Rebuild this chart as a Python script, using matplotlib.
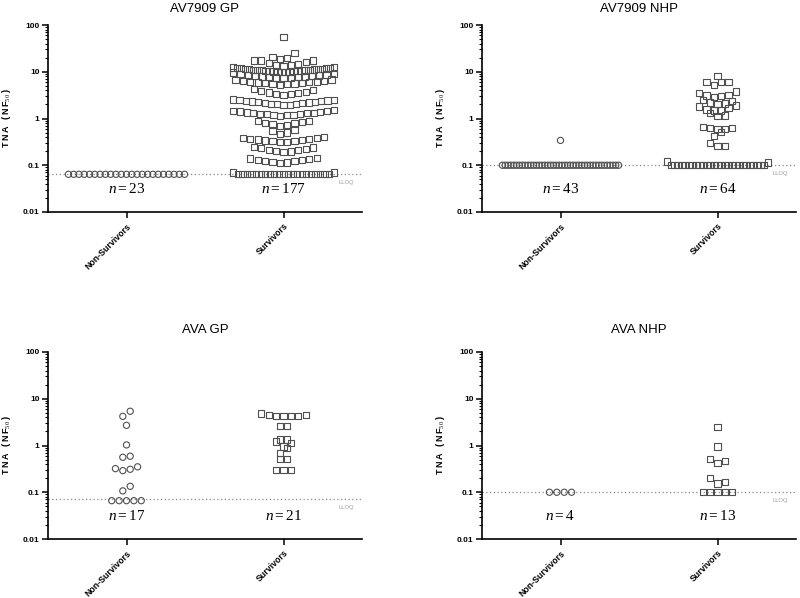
import numpy as np
import matplotlib
matplotlib.use("Agg")
import matplotlib.pyplot as plt
from matplotlib.ticker import LogLocator, NullFormatter, FixedLocator, FixedFormatter
import matplotlib.transforms as mtransforms

plt.rcParams['font.family'] = ['Liberation Sans', 'DejaVu Sans']
plt.rcParams['mathtext.fontset'] = 'custom'
plt.rcParams['mathtext.rm'] = 'Liberation Serif'
plt.rcParams['mathtext.it'] = 'Liberation Serif:italic'
plt.rcParams['mathtext.bf'] = 'Liberation Sans:bold'

# ---------------- data ----------------
categories = ["Non-Survivors", "Survivors"]
panel_titles = ["AV7909 GP", "AV7909 NHP", "AVA GP", "AVA NHP"]
y_ticks = [0.01, 0.1, 1, 10, 100]
y_tick_labels = ["0.01", "0.1", "1", "10", "100"]

lloq_av7909_gp = 0.064
lloq_av7909_nhp = 0.1
lloq_ava_gp = 0.07
lloq_ava_nhp = 0.1

av7909_gp_non = [0.064] * 23
av7909_gp_surv = (
    [0.064] * 21 + [0.070, 0.070]
    + [0.112, 0.115, 0.118, 0.121, 0.125, 0.128, 0.132, 0.136, 0.140, 0.145]
    + [0.190, 0.196, 0.203, 0.210, 0.216, 0.223, 0.231, 0.240, 0.250]
    + [0.310, 0.318, 0.326, 0.333, 0.340, 0.348, 0.355, 0.362, 0.370, 0.378, 0.388, 0.400]
    + [0.470, 0.500, 0.540, 0.580]
    + [0.700, 0.720, 0.750, 0.780, 0.810, 0.840, 0.870, 0.900]
    + [1.15, 1.17, 1.19, 1.21, 1.23, 1.25, 1.27, 1.29, 1.31, 1.33, 1.35, 1.38, 1.41, 1.44, 1.47, 1.50]
    + [1.95, 1.98, 2.01, 2.05, 2.08, 2.12, 2.15, 2.19, 2.22, 2.26, 2.30, 2.34, 2.38, 2.42, 2.46, 2.50, 2.55]
    + [3.2, 3.3, 3.4, 3.5, 3.6, 3.7, 3.85, 4.0, 4.2]
    + [5.3, 5.4, 5.5, 5.6, 5.7, 5.8, 5.9, 6.0, 6.1, 6.2, 6.3, 6.45, 6.6, 6.8]
    + [7.3, 7.4, 7.5, 7.6, 7.7, 7.8, 7.9, 8.0, 8.15, 8.3, 8.45, 8.6, 8.8, 9.0]
    + [9.6, 9.7, 9.8, 9.9, 10.0, 10.1, 10.2, 10.3, 10.4, 10.5, 10.6, 10.7, 10.8, 10.9,
       11.0, 11.1, 11.2, 11.3, 11.4, 11.5, 11.6, 11.8, 11.9, 12.0, 12.2, 12.3, 12.5]
    + [13.5, 14.0, 14.2, 14.6, 15.2, 16.0, 17.4, 17.4]
    + [17.4, 19.0, 19.5, 21.0, 25.0]
    + [55.0]
)

av7909_nhp_non = [0.1] * 42 + [0.34]
av7909_nhp_surv = (
    [0.1] * 27 + [0.115, 0.12]
    + [0.26, 0.26, 0.30]
    + [0.43, 0.51, 0.60, 0.60, 0.62, 0.62, 0.67]
    + [1.12, 1.16, 1.30, 1.48, 1.48, 1.56]
    + [1.66, 1.80, 1.90, 2.06, 2.10, 2.20]
    + [2.4, 2.5, 2.9, 3.0, 3.1, 3.2, 3.5, 3.8]
    + [5.3, 6.0, 6.0, 6.0, 8.0]
)

ava_gp_non = [0.066] * 5 + [0.107, 0.134, 0.29, 0.31, 0.32, 0.35, 0.56, 0.59, 1.03, 2.7, 4.2, 5.4]
ava_gp_surv = [0.30, 0.30, 0.30, 0.52, 0.52, 0.69, 0.89, 0.95, 1.12, 1.22, 1.34, 1.34,
               2.66, 2.66, 4.2, 4.35, 4.35, 4.35, 4.5, 4.55, 4.85]

ava_nhp_non = [0.1] * 4
ava_nhp_surv = [0.1] * 5 + [0.154, 0.165, 0.20, 0.43, 0.46, 0.52, 0.95, 2.45]

panels = [
    (panel_titles[0], av7909_gp_non, av7909_gp_surv, lloq_av7909_gp),
    (panel_titles[1], av7909_nhp_non, av7909_nhp_surv, lloq_av7909_nhp),
    (panel_titles[2], ava_gp_non, ava_gp_surv, lloq_ava_gp),
    (panel_titles[3], ava_nhp_non, ava_nhp_surv, lloq_ava_nhp),
]


def swarm_x(values, center, spacing=0.047, maxw=0.74, h=0.12):
    vals = np.asarray(values, dtype=float)
    logs = np.log10(vals)
    order = np.argsort(logs, kind="stable")
    rows, cur, start = [], [], None
    for i in order:
        if cur and logs[i] - start > h:
            rows.append(cur)
            cur = []
        if not cur:
            start = logs[i]
        cur.append(i)
    if cur:
        rows.append(cur)
    xs = np.empty(len(vals))
    for row in rows:
        n = len(row)
        d = spacing if n <= 1 else min(spacing, maxw / (n - 1))
        offs = []
        for k in range(n):
            m = (k + 1) // 2
            sgn = 1 if k % 2 == 1 else -1
            offs.append(sgn * m * d)
        offs = np.array(offs)
        offs -= (offs.max() + offs.min()) / 2
        for idx, o in zip(row, offs):
            xs[idx] = center + o
    return xs, vals


def spaced(s):
    return "\u2009".join(s)


fig = plt.figure(figsize=(8, 5.98), dpi=100)
rects = [
    (48 / 800, 1 - 212 / 598, 314 / 800, 187 / 598),
    (482 / 800, 1 - 212 / 598, 314 / 800, 187 / 598),
    (48 / 800, 1 - 539 / 598, 314 / 800, 187 / 598),
    (482 / 800, 1 - 539 / 598, 314 / 800, 187 / 598),
]
title_pads = [9, 9, 14, 14]
edge = "#505050"

for k, (title, non, surv, lloq) in enumerate(panels):
    ax = fig.add_axes(rects[k])
    ax.set_yscale("log")
    ax.set_ylim(0.01, 100)
    ax.set_xlim(-0.5, 1.5)

    ax.axhline(lloq, color="#8a8a8a", lw=0.9, ls=(0, (1, 2)), zorder=1)

    x0, v0 = swarm_x(non, 0, maxw=0.74)
    ax.scatter(x0, v0, marker="o", s=20, facecolors="none", edgecolors=edge,
               linewidths=0.8, zorder=3)
    x1, v1 = swarm_x(surv, 1, maxw=0.64)
    ax.scatter(x1, v1, marker="s", s=20, facecolors="none", edgecolors=edge,
               linewidths=0.8, zorder=3)

    for i, grp in enumerate([non, surv]):
        ax.text(i, 0.031, r"$n=%d$" % len(grp), ha="center", va="center", fontsize=11)

    trans = mtransforms.blended_transform_factory(ax.transAxes, ax.transData)
    ax.annotate("LLOQ", xy=(0.975, lloq), xycoords=trans, xytext=(0, -8),
                textcoords="offset pixels", ha="right", va="center",
                fontsize=4.2, color="#9a9a9a")

    ax.set_title(title, fontsize=9.5, pad=title_pads[k])
    ax.set_ylabel(spaced("TNA (NF") + "$_{50}$\u2009)", fontsize=6.5,
                  fontweight="bold", labelpad=7)

    ax.yaxis.set_major_locator(FixedLocator(y_ticks))
    ax.yaxis.set_major_formatter(FixedFormatter(y_tick_labels))
    ax.yaxis.set_minor_locator(LogLocator(base=10, subs=np.arange(2, 10), numticks=20))
    ax.yaxis.set_minor_formatter(NullFormatter())
    ax.set_xticks([0, 1])
    ax.set_xticklabels(categories, rotation=45, ha="right", va="top",
                       rotation_mode="anchor", fontsize=6.3, fontweight="bold")
    for lab in ax.get_yticklabels():
        lab.set_fontweight("bold")
        lab.set_fontsize(6)

    ax.tick_params(axis="y", which="major", length=4, width=1.1, direction="out", pad=2)
    ax.tick_params(axis="y", which="minor", length=2, width=0.8, direction="out")
    ax.tick_params(axis="x", which="major", length=4, width=1.1, direction="out", pad=3)
    for s in ["top", "right"]:
        ax.spines[s].set_visible(False)
    for s in ["left", "bottom"]:
        ax.spines[s].set_linewidth(1.2)

fig.savefig("out.png", dpi=100)
